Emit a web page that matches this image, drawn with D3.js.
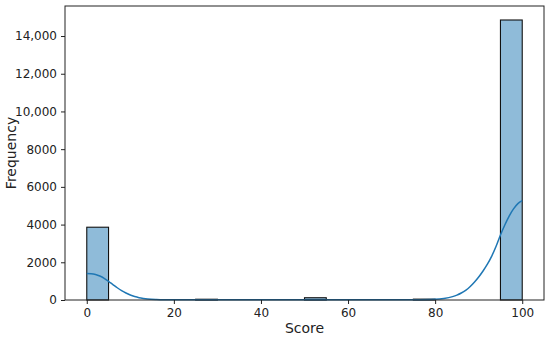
<!DOCTYPE html>
<html>
<head>
<meta charset="utf-8">
<script src="https://cdn.jsdelivr.net/npm/d3@7"></script>
<style>
  body { margin: 0; background: white; }
  text { font-family: "DejaVu Sans", sans-serif; fill: #222; }
</style>
</head>
<body>
<div id="myVis"></div>
<script>
// histogram bins (score, width 5) and counts
var binStarts = [0, 5, 10, 15, 20, 25, 30, 35, 40, 45, 50, 55, 60, 65, 70, 75, 80, 85, 90, 95];
var counts = [3860, 0, 0, 0, 0, 40, 0, 0, 0, 0, 120, 0, 0, 0, 0, 45, 0, 0, 0, 14850];

// kde curve
var kdeX = [0, 1, 2, 3, 4, 5, 6, 7, 8, 9, 10, 11, 12, 13, 14, 16, 18, 20, 25, 30, 40, 50, 55, 60, 70, 75,
  80, 82, 84, 85, 86, 87, 88, 89, 90, 91, 92, 93, 94, 95, 96, 97, 98, 99, 100];
var kdeY = [1400, 1390, 1350, 1270, 1150, 990, 820, 650, 500, 370, 265, 185, 125, 85, 55, 25, 12, 8, 7, 8, 8, 10, 10, 8, 10, 15,
  40, 85, 180, 260, 370, 510, 700, 940, 1220, 1540, 1900, 2330, 2850, 3450, 3980, 4450, 4830, 5110, 5270];

var xTicks = [0, 20, 40, 60, 80, 100];
var yTicks = [0, 2000, 4000, 6000, 8000, 10000, 12000, 14000];

var width = 550;
var height = 339;
var margin = { left: 65, right: 6, top: 6, bottom: 39 };

var svg = d3.select("#myVis")
  .append("svg")
  .attr("width", width)
  .attr("height", height);

var x = d3.scaleLinear()
  .domain([-5, 105])
  .range([margin.left, width - margin.right]);

var y = d3.scaleLinear()
  .domain([0, 14850 * 1.05])
  .range([height - margin.bottom, margin.top]);

// bars
svg.selectAll("rect.bar")
  .data(counts)
  .enter()
  .append("rect")
  .attr("class", "bar")
  .attr("x", function(d, i) { return x(binStarts[i]); })
  .attr("width", function(d, i) { return x(binStarts[i] + 5) - x(binStarts[i]); })
  .attr("y", function(d) { return y(d); })
  .attr("height", function(d) { return y(0) - y(d); })
  .attr("fill", "rgba(31,119,180,0.5)")
  .attr("stroke", function(d) { return d > 0 ? "#111" : "none"; })
  .attr("stroke-width", 1.1);

// kde line
var line = d3.line()
  .x(function(d, i) { return x(kdeX[i]); })
  .y(function(d) { return y(d); })
  .curve(d3.curveMonotoneX);

svg.append("path")
  .datum(kdeY)
  .attr("d", line)
  .attr("fill", "none")
  .attr("stroke", "#1f77b4")
  .attr("stroke-width", 1.5);

// axes
var xAxis = svg.append("g")
  .attr("transform", "translate(0," + (height - margin.bottom) + ")")
  .call(d3.axisBottom(x).tickValues(xTicks).tickSize(4).tickPadding(4).tickFormat(d3.format("d")));

var yAxis = svg.append("g")
  .attr("transform", "translate(" + margin.left + ",0)")
  .call(d3.axisLeft(y).tickValues(yTicks).tickSize(4).tickPadding(4)
    .tickFormat(function(d) { return d >= 10000 ? d3.format(",")(d) : d3.format("d")(d); }));

[xAxis, yAxis].forEach(function(g) {
  g.select(".domain").remove();
  g.selectAll("line").attr("stroke", "#222");
  g.selectAll("text").style("font-size", "12px").style("font-family", "DejaVu Sans").attr("fill", "#222");
});

// frame
svg.append("rect")
  .attr("x", margin.left)
  .attr("y", margin.top)
  .attr("width", width - margin.left - margin.right)
  .attr("height", height - margin.top - margin.bottom)
  .attr("fill", "none")
  .attr("stroke", "#222")
  .attr("stroke-width", 1);

svg.append("text")
  .attr("x", (margin.left + width - margin.right) / 2)
  .attr("y", 333)
  .attr("text-anchor", "middle")
  .style("font-size", "14px")
  .text("Score");

svg.append("text")
  .attr("transform", "translate(16," + ((margin.top + height - margin.bottom) / 2) + ") rotate(-90)")
  .attr("text-anchor", "middle")
  .style("font-size", "14px")
  .text("Frequency");
</script>
</body>
</html>
